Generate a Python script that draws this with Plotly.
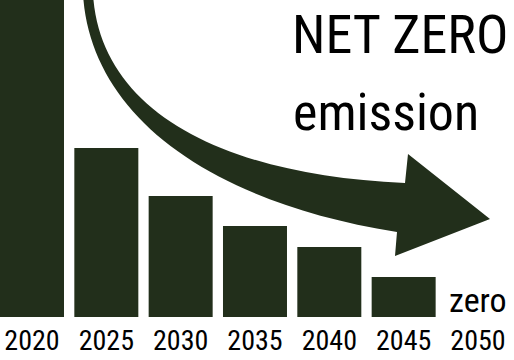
import plotly.graph_objects as go

# ---- data ----
years = ["2020", "2025", "2030", "2035", "2040", "2045", "2050"]
emissions = [330, 169, 121, 91, 70, 40, 0]   # relative emission level
end_label = "zero"
title_line1 = "NET ZERO"
title_line2 = "emission"

W, H = 514, 360
PH = 317  # plot-area height in pixels (bottom margin 43)
GREEN = "#222f1b"
FONT = "Roboto Condensed, Liberation Sans Narrow, sans-serif"

def px(x):
    return x / W

def py(y):
    return 1 - y / PH

fig = go.Figure()
fig.add_trace(go.Bar(
    x=list(range(len(years))), y=emissions,
    marker=dict(color=GREEN, line=dict(width=0)),
    hoverinfo="skip",
))

def P(x, y):
    return f"{px(x):.5f},{py(y):.5f}"

arrow = (
    f"M {P(83,-6)} C {P(90,110)} {P(200,200)} {P(397,232)} "
    f"L {P(395,256)} L {P(490,219)} L {P(408,154)} L {P(405,183)} "
    f"C {P(220,175)} {P(100,110)} {P(93,-6)} Z"
)

fig.update_layout(
    width=W, height=H,
    margin=dict(l=0, r=0, t=0, b=H - PH),
    paper_bgcolor="white", plot_bgcolor="white",
    showlegend=False,
    bargap=0.139,
    xaxis=dict(
        range=[-0.4305, 6.4845],
        tickmode="array", tickvals=list(range(len(years))), ticktext=years,
        showgrid=False, zeroline=False, showline=False, ticks="",
        tickfont=dict(family=FONT, size=28, color="black"),
        ticklabeloverflow="allow",
        ticklabelstandoff=4,
        fixedrange=True,
    ),
    yaxis=dict(range=[0, PH], visible=False, fixedrange=True),
    shapes=[dict(type="path", path=arrow, xref="paper", yref="paper",
                 fillcolor=GREEN, line=dict(width=0), layer="above")],
    annotations=[
        dict(text=title_line1, x=px(400), y=py(35), xref="paper", yref="paper",
             showarrow=False, xanchor="center", yanchor="middle",
             font=dict(family=FONT, size=54, color="black")),
        dict(text=title_line2, x=px(386), y=py(112), xref="paper", yref="paper",
             showarrow=False, xanchor="center", yanchor="middle",
             font=dict(family=FONT, size=52, color="black")),
        dict(text=end_label, x=6, y=emissions[-1], xref="x", yref="y",
             showarrow=False, xanchor="center", yanchor="bottom", yshift=-5,
             font=dict(family=FONT, size=34, color="black")),
    ],
)

fig.write_html("out.html", config={"displayModeBar": False})
